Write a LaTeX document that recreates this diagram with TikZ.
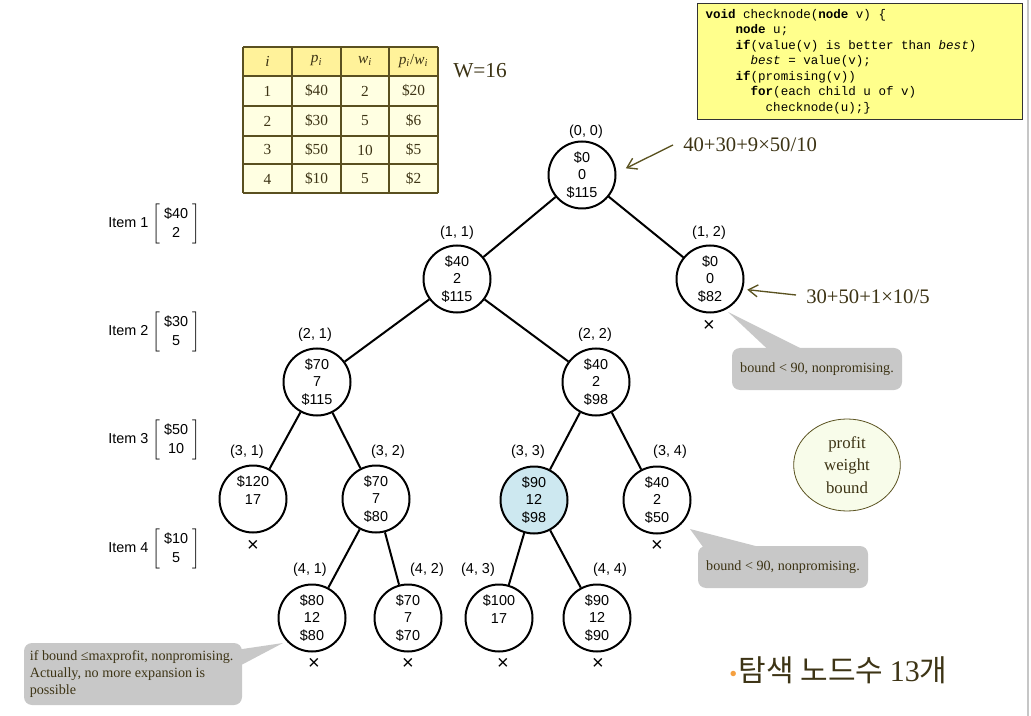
\documentclass[tikz,border=0pt]{standalone}
\usepackage{fontspec}
\setmainfont{Liberation Serif}
\setsansfont{Liberation Sans}
\setmonofont{Liberation Mono}
\newfontfamily\codefont{Liberation Mono}
\newfontfamily\kofont{Noto Sans CJK KR}
\usepackage{xcolor}
\usepackage{tikz}
\usetikzlibrary{positioning, arrows.meta, shapes.geometric}
\definecolor{codeyellow}{HTML}{FFFF8C}
\definecolor{headyellow}{HTML}{FFF29A}
\definecolor{rowyellow}{HTML}{FFFFE2}
\definecolor{gridbrown}{HTML}{5A5020}
\definecolor{textbrown}{HTML}{3D3415}
\definecolor{arrowolive}{HTML}{5A5220}
\definecolor{calloutgray}{HTML}{C8C8C8}
\definecolor{visitblue}{HTML}{CDE8F0}
\definecolor{legendfill}{HTML}{F8FCEA}
\definecolor{bulletorange}{HTML}{F5A040}

\begin{document}
\begin{tikzpicture}[x=0.75pt, y=-0.75pt,
    statenode/.style={circle, draw, fill=white, line width=1.5pt, minimum size=50.25pt,
      inner sep=0pt, align=center, font=\sffamily\fontsize{10.8}{13.3}\selectfont},
    statelabel/.style={font=\sffamily\fontsize{10.8}{13}\selectfont},
    cutmark/.style={font=\sffamily\fontsize{15}{15}\selectfont},
    treeedge/.style={line width=1.5pt},
    itemlabel/.style={anchor=west, inner sep=0pt, font=\sffamily\fontsize{10.8}{13}\selectfont},
    boundnote/.style={font=\fontsize{15.5}{18}\selectfont, text=textbrown, inner sep=0pt},
    notearrow/.style={draw=arrowolive, line width=1pt, -{Straight Barb[length=7pt,width=9pt]}},
    callout/.style={fill=calloutgray, rounded corners=6pt, inner sep=0pt, text=textbrown,
      font=\fontsize{10.6}{12.5}\selectfont},
    gridline/.style={draw=gridbrown, line width=1.1pt},
    cell/.style={font=\fontsize{11.5}{13}\selectfont, text=textbrown, inner sep=0pt}]
  \useasboundingbox (0,0) rectangle (1031,716);
  \draw[gray!45, line width=1pt] (1028,0) -- (1028,716);

  % table of items
  \fill[headyellow] (243,47) rectangle (438,76);
  \fill[rowyellow] (243,76) rectangle (438,193);
  \foreach \gx in {243,292,341,389,438}
    \draw[gridline] (\gx,47) -- (\gx,193);
  \foreach \gy in {47,76,106,136,164,193}
    \draw[gridline] (243,\gy) -- (438,\gy);
  \node[cell] (head-i) at (267.5,61) {\textit{i}};
  \node[cell] (head-p) at (316.5,61) {\textit{p}\textsubscript{\textit{i}}};
  \node[cell] (head-w) at (365,61) {\textit{w}\textsubscript{\textit{i}}};
  \node[cell] (head-q) at (413.5,61) {\textit{p}\textsubscript{\textit{i}}/\textit{w}\textsubscript{\textit{i}}};
  \foreach \ry/\ri/\rp/\rw/\rq in {91/1/\$40/2/\$20, 121/2/\$30/5/\$6, 150/3/\$50/10/\$5, 179/4/\$10/5/\$2}{
    \node[cell] (row\ri-i) at (267.5,\ry) {\ri};
    \node[cell] (row\ri-p) at (316.5,\ry) {\rp};
    \node[cell] (row\ri-w) at (365,\ry) {\rw};
    \node[cell] (row\ri-q) at (413.5,\ry) {\rq};
  }
  \node[cell, font=\fontsize{16}{18}\selectfont] (capacity) at (480,71) {W=16};

  % checknode code
  \node[fill=codeyellow, draw=black!80, line width=0.8pt, anchor=north west,
        minimum width=243.75pt, minimum height=87pt, inner xsep=6pt, align=left,
        text width=232pt, font=\codefont\fontsize{9.4}{11.6}\selectfont] (code) at (697,3) {%
    \spaceskip=0.6em\relax\xspaceskip=0.6em\relax
    \textbf{void} checknode(\textbf{node} v) \{\\
    \phantom{0000}\textbf{node} u;\\
    \phantom{0000}\textbf{if}(value(v) is better than \textit{best})\\
    \phantom{000000}\textit{best} = value(v);\\
    \phantom{0000}\textbf{if}(promising(v))\\
    \phantom{000000}\textbf{for}(each child u of v)\\
    \phantom{00000000}checknode(u);\}};

  % item labels
  \node[itemlabel] (item1) at (108,224) {Item 1 $\left[\renewcommand\arraystretch{1.15}\begin{array}{@{\;}c@{\;}}\textsf{\$40}\\\textsf{2}\end{array}\right]$};
  \node[itemlabel] (item2) at (108,332) {Item 2 $\left[\renewcommand\arraystretch{1.15}\begin{array}{@{\;}c@{\;}}\textsf{\$30}\\\textsf{5}\end{array}\right]$};
  \node[itemlabel] (item3) at (108,440) {Item 3 $\left[\renewcommand\arraystretch{1.15}\begin{array}{@{\;}c@{\;}}\textsf{\$50}\\\textsf{10}\end{array}\right]$};
  \node[itemlabel] (item4) at (108,549) {Item 4 $\left[\renewcommand\arraystretch{1.15}\begin{array}{@{\;}c@{\;}}\textsf{\$10}\\\textsf{5}\end{array}\right]$};

  % state space tree
  \node[statenode] (n00) at (582,175) {\$0\\0\\\$115};
  \node[statenode] (n11) at (457,279) {\$40\\2\\\$115};
  \node[statenode] (n12) at (710,279) {\$0\\0\\\$82};
  \node[statenode] (n21) at (317,382) {\$70\\7\\\$115};
  \node[statenode] (n22) at (596,382) {\$40\\2\\\$98};
  \node[statenode] (n31) at (253,499) {\$120\\17\\\phantom{0}};
  \node[statenode] (n32) at (376,499) {\$70\\7\\\$80};
  \node[statenode, fill=visitblue] (n33) at (534,500) {\$90\\12\\\$98};
  \node[statenode] (n34) at (657,500) {\$40\\2\\\$50};
  \node[statenode] (n41) at (312,618) {\$80\\12\\\$80};
  \node[statenode] (n42) at (408,618) {\$70\\7\\\$70};
  \node[statenode] (n43) at (499,618) {\$100\\17\\\phantom{0}};
  \node[statenode] (n44) at (597,618) {\$90\\12\\\$90};

  \draw[treeedge] (n00) -- (n11);
  \draw[treeedge] (n00) -- (n12);
  \draw[treeedge] (n11) -- (n21);
  \draw[treeedge] (n11) -- (n22);
  \draw[treeedge] (n21) -- (n31);
  \draw[treeedge] (n21) -- (n32);
  \draw[treeedge] (n22) -- (n33);
  \draw[treeedge] (n22) -- (n34);
  \draw[treeedge] (n32) -- (n41);
  \draw[treeedge] (n32) -- (n42);
  \draw[treeedge] (n33) -- (n43);
  \draw[treeedge] (n33) -- (n44);

  \node[statelabel] (l00) at (586,132) {(0, 0)};
  \node[statelabel] (l11) at (457,233) {(1, 1)};
  \node[statelabel] (l12) at (709,233) {(1, 2)};
  \node[statelabel] (l21) at (315,335) {(2, 1)};
  \node[statelabel] (l22) at (595,335) {(2, 2)};
  \node[statelabel] (l31) at (247,452) {(3, 1)};
  \node[statelabel] (l32) at (388,452) {(3, 2)};
  \node[statelabel] (l33) at (528,452) {(3, 3)};
  \node[statelabel] (l34) at (670,452) {(3, 4)};
  \node[statelabel] (l41) at (310,570) {(4, 1)};
  \node[statelabel] (l42) at (427,570) {(4, 2)};
  \node[statelabel] (l43) at (478,570) {(4, 3)};
  \node[statelabel] (l44) at (610,570) {(4, 4)};

  \node[cutmark] (x12) at (709,326) {×};
  \node[cutmark] (x31) at (253,546) {×};
  \node[cutmark] (x34) at (657,546) {×};
  \node[cutmark] (x41) at (314,664) {×};
  \node[cutmark] (x42) at (408,664) {×};
  \node[cutmark] (x43) at (503,664) {×};
  \node[cutmark] (x44) at (598,664) {×};

  % bound computations
  \node[boundnote, anchor=west] (bound00) at (683,145) {40+30+9×50/10};
  \draw[notearrow] ([xshift=-7.5pt]bound00.west) -- ([xshift=7pt,yshift=5pt]n00.east);
  \node[boundnote, anchor=west] (bound12) at (806,297) {30+50+1×10/5};
  \draw[notearrow] ([xshift=-7.5pt,yshift=1.5pt]bound12.west) -- ([xshift=2pt,yshift=-8pt]n12.east);

  % callouts
  \node[callout, minimum width=127.5pt, minimum height=31.5pt] (note12) at (817,369) {bound < 90, nonpromising.};
  \coordinate (tip12) at (728,312);
  \fill[calloutgray] (tip12) -- ([xshift=-35pt,yshift=-3pt]note12.north) -- ([xshift=-7pt,yshift=-3pt]note12.north) -- cycle;
  \node[callout, minimum width=127.5pt, minimum height=31.5pt] (note34) at (783,567) {bound < 90, nonpromising.};
  \coordinate (tip34) at (690,529);
  \fill[calloutgray] (tip34) -- ([xshift=-58.5pt,yshift=-3pt]note34.north) -- ([xshift=-9.75pt,yshift=-3pt]note34.north) -- cycle;
  \node[callout, minimum width=163.5pt, minimum height=46.5pt, align=left] (note41) at (133,674)
    {if bound ≤maxprofit, nonpromising.\\Actually, no more expansion is\\possible\hspace*{120pt}};
  \coordinate (tip41) at (283,643);
  \fill[calloutgray] (tip41) -- ([xshift=-5pt,yshift=18pt]note41.east) -- ([xshift=-5pt,yshift=4.5pt]note41.east) -- cycle;

  % legend
  \node[ellipse, draw=arrowolive, fill=legendfill, line width=0.6pt, minimum width=80pt,
        minimum height=69pt, inner sep=0pt, align=center, text=textbrown,
        font=\fontsize{12.6}{17}\selectfont] (legend) at (847,465) {profit\\weight\\bound};

  \node[anchor=west, inner sep=0pt, text=textbrown, font=\fontsize{22.5}{26}\selectfont] (count) at (729,670)
    {\textcolor{bulletorange}{\fontsize{17}{17}\selectfont •}\kern1pt\kofont 탐색 노드수 {\rmfamily 13}개};
\end{tikzpicture}
\end{document}
